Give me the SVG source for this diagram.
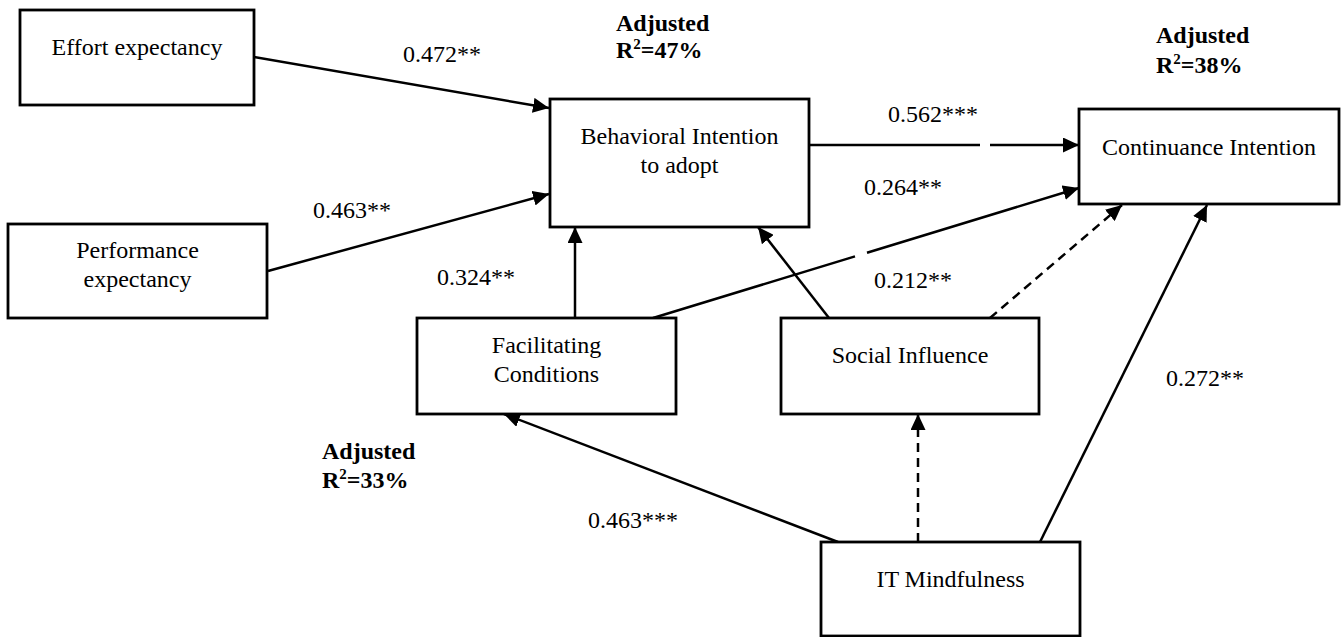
<svg xmlns="http://www.w3.org/2000/svg" width="1343" height="637" viewBox="0 0 1343 637">
<style>
.box{fill:#fff;stroke:#000;stroke-width:2.8}
.t{font-family:"Liberation Serif","Times New Roman",serif;font-size:24px;fill:#000}
.c{text-anchor:middle}
.b{font-weight:bold}
.ln{fill:none;stroke:#000;stroke-width:2.5;marker-end:url(#ah)}
.d{stroke-dasharray:9 6}
</style>
<defs>
<marker id="ah" markerUnits="userSpaceOnUse" markerWidth="17" markerHeight="15" viewBox="0 0 17 15" refX="16" refY="7.5" orient="auto">
<path d="M0,0 L16,7.5 L0,15 z" fill="#000"/>
</marker>
</defs>
<rect width="1343" height="637" fill="#fff"/>
<g id="connectors">
<path class="ln" d="M254,57 L549,108"/>
<path class="ln" d="M268,271 L549,194"/>
<path class="ln" d="M575,318 L575,227"/>
<path class="ln" d="M809,145 L980,145 M990,145 L1079,145"/>
<path class="ln" d="M653,318 L855,256.4 M867,252.7 L1079,188"/>
<path class="ln" d="M829,318 L758,227"/>
<path class="ln d" d="M990,318 L1122,205"/>
<path class="ln" d="M838,542 L504,414"/>
<path class="ln d" d="M918,542 L918,414"/>
<path class="ln" d="M1040,542 L1207,205"/>
</g>
<g id="node-effort">
<rect class="box" x="20" y="10" width="234" height="95"/>
<text class="t c" x="137" y="55">Effort expectancy</text>
</g>
<g id="node-performance">
<rect class="box" x="8" y="224" width="259" height="94"/>
<text class="t c" x="137.5" y="258">Performance</text>
<text class="t c" x="137.5" y="287">expectancy</text>
</g>
<g id="node-bi">
<rect class="box" x="550" y="99" width="259" height="128"/>
<text class="t c" x="679.5" y="144">Behavioral Intention</text>
<text class="t c" x="679.5" y="173">to adopt</text>
</g>
<g id="node-ci">
<rect class="box" x="1079" y="109" width="260" height="95"/>
<text class="t c" x="1209" y="155">Continuance Intention</text>
</g>
<g id="node-fc">
<rect class="box" x="417" y="318" width="259" height="96"/>
<text class="t c" x="546.5" y="353">Facilitating</text>
<text class="t c" x="546.5" y="382">Conditions</text>
</g>
<g id="node-si">
<rect class="box" x="781" y="318" width="258" height="96"/>
<text class="t c" x="910" y="363">Social Influence</text>
</g>
<g id="node-it">
<rect class="box" x="821" y="542" width="259" height="94"/>
<text class="t c" x="950.5" y="587">IT Mindfulness</text>
</g>
<g id="labels">
<text class="t" x="403" y="62">0.472**</text>
<text class="t" x="313" y="218">0.463**</text>
<text class="t" x="437" y="285">0.324**</text>
<text class="t" x="888" y="122">0.562***</text>
<text class="t" x="864" y="195">0.264**</text>
<text class="t" x="874" y="288">0.212**</text>
<text class="t" x="1166" y="386">0.272**</text>
<text class="t" x="588" y="528">0.463***</text>
<text class="t b" x="616" y="31">Adjusted</text>
<text class="t b" x="616" y="58">R<tspan font-size="15" dy="-9">2</tspan><tspan dy="9">=47%</tspan></text>
<text class="t b" x="1156" y="43">Adjusted</text>
<text class="t b" x="1156" y="73">R<tspan font-size="15" dy="-9">2</tspan><tspan dy="9">=38%</tspan></text>
<text class="t b" x="322" y="459">Adjusted</text>
<text class="t b" x="322" y="488">R<tspan font-size="15" dy="-9">2</tspan><tspan dy="9">=33%</tspan></text>
</g>
</svg>
